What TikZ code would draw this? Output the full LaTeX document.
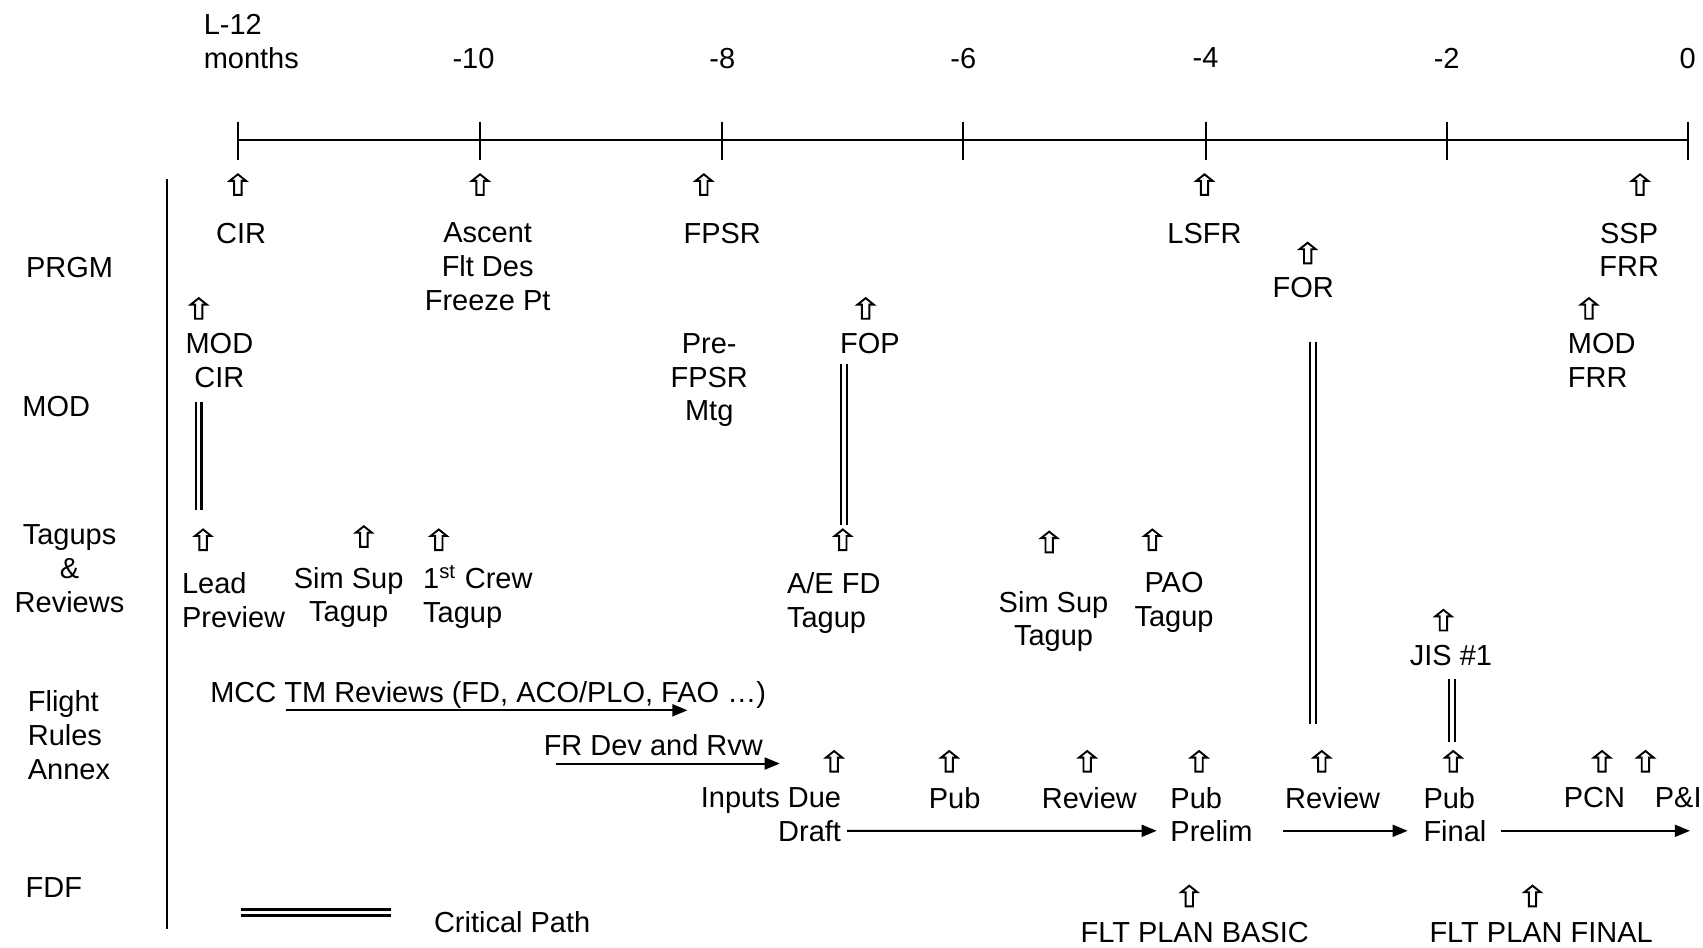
\documentclass[tikz,border=0pt]{standalone}
\usepackage{fontspec}
\setmainfont{Liberation Sans}
\usetikzlibrary{arrows.meta}
\tikzset{evt/.pic={\draw[line width=0.55pt] (0,-9.5)--(7.5,-3.5)--(3.4,-3.5)--(3.4,9.5)--(-3.4,9.5)--(-3.4,-3.5)--(-7.5,-3.5)--cycle;}}

\begin{document}
\begin{tikzpicture}[x=0.010861cm,y=-0.010861cm,every node/.style={font=\fontsize{8.25}{9.58}\selectfont,inner sep=0pt,anchor=north,align=center},lft/.style={align=left,anchor=north west},rgt/.style={align=right,anchor=north east},axis/.style={line width=0.6pt},arr/.style={-{Triangle[length=4.3pt,width=3.4pt]},line width=0.55pt},crit/.style={double,line width=0.6pt,double distance=0.95pt}]
\useasboundingbox (0,0) rectangle (1568,872);
\draw[axis] (219,129) -- (1554,129);
\foreach \x in {219,442,665,887,1110,1332,1554} \draw[axis] (\x,112) -- (\x,147);
\draw[axis] (154,165) -- (154,855);
\node[lft] (l12) at (187,12.5) {L-12\\months};
\node (m10) at (436,43.5) {-10};
\node (m8) at (665,43.5) {-8};
\node (m6) at (887,43.5) {-6};
\node (m4) at (1110,43.5) {-4};
\node (m2) at (1332,43.5) {-2};
\node (m0) at (1554,43.5) {0};
\node (prgm) at (64,236.5) {PRGM};
\node[lft] (mod) at (20,364.5) {MOD};
\node (tag) at (64,482.5) {Tagups\\\&\\Reviews};
\node[lft] (fra) at (25,635.5) {Flight\\Rules\\Annex};
\node[lft] (fdf) at (23,807.5) {FDF};
\foreach \x/\y in {219/170,442/170,648/170,1109/170,1510/170,1204/233,183/284,797/284,1463/284,187/497,335/494,404/497,776/497,966/499,1061/497,1329/571,768/701,874/701,1001/701,1104/701,1217/701,1338/701,1475/701,1515/701,1095/825,1411/825} \pic at (\x,\y) {evt};
\node (cir) at (222,204.5) {CIR};
\node (asc) at (449,204.5) {Ascent\\Flt Des\\Freeze Pt};
\node (fpsr) at (665,204.5) {FPSR};
\node (lsfr) at (1109,204.5) {LSFR};
\node (for) at (1200,254.5) {FOR};
\node (ssp) at (1500,204.5) {SSP\\FRR};
\node (modcir) at (202,306.5) {MOD\\CIR};
\node (pre) at (653,306.5) {Pre-\\FPSR\\Mtg};
\node (fop) at (801,306.5) {FOP};
\node[lft] (modfrr) at (1443,306.5) {MOD\\FRR};
\node[lft] (lead) at (167,526.5) {Lead\\Preview};
\node (sim1) at (321,521.5) {Sim Sup\\Tagup};
\node[lft] (crew) at (389,520) {1\textsuperscript{st} Crew\\Tagup};
\node[lft] (aefd) at (724,526.5) {A/E FD\\Tagup};
\node (sim2) at (970,543.5) {Sim Sup\\Tagup};
\node (pao) at (1081,526.5) {PAO\\Tagup};
\node (jis) at (1336,593.5) {JIS \#1};
\node[lft] (mcc) at (193,626.5) {MCC TM Reviews (FD, ACO/PLO, FAO …)};
\node[lft] (frdev) at (500,675.5) {FR Dev and Rvw};
\node[rgt] (inp) at (775,724.5) {Inputs Due};
\node[rgt] (draft) at (775,754.5) {Draft};
\node (pub1) at (879,724.5) {Pub};
\node (rev1) at (1003,724.5) {Review};
\node[lft] (pub2) at (1077,724.5) {Pub};
\node[lft] (prelim) at (1077,754.5) {Prelim};
\node (rev2) at (1227,724.5) {Review};
\node[lft] (pub3) at (1310,724.5) {Pub};
\node[lft] (final) at (1310,754.5) {Final};
\node (pcn) at (1468,724.5) {PCN};
\node[lft] (pi) at (1523,724.5) {P\&I};
\node (basic) at (1100,848.5) {FLT PLAN BASIC};
\node (fin) at (1419,848.5) {FLT PLAN FINAL};
\node[lft] (cp) at (399,838.5) {Critical Path};
\coordinate (mccA) at (263,654); \coordinate (mccB) at (633,654);
\coordinate (frA) at (512,703); \coordinate (frB) at (718,703);
\coordinate (fdfend) at (1556,0);
\draw[arr] (mccA) -- (mccB);
\draw[arr] (frA) -- (frB);
\draw[arr,shorten <=1.5pt,shorten >=3.7pt] (draft) -- (prelim);
\draw[arr,shorten <=8.6pt,shorten >=4.3pt] (prelim) -- (final);
\draw[arr,shorten <=4pt] (final) -- (final -| fdfend);
\coordinate (c1a) at (183,370); \coordinate (c1b) at (183,470);
\coordinate (c2a) at (777,335); \coordinate (c2b) at (777,483);
\coordinate (c3a) at (1209,315); \coordinate (c3b) at (1209,667);
\coordinate (c4a) at (1337,625); \coordinate (c4b) at (1337,683);
\draw[crit] (c1a) -- (c1b); \draw[crit] (c2a) -- (c2b);
\draw[crit] (c3a) -- (c3b); \draw[crit] (c4a) -- (c4b);
\coordinate (lgA) at (222,840); \coordinate (lgB) at (360,840);
\draw[crit,line width=0.8pt,double distance=0.8pt] (lgA) -- (lgB);
\end{tikzpicture}
\end{document}
